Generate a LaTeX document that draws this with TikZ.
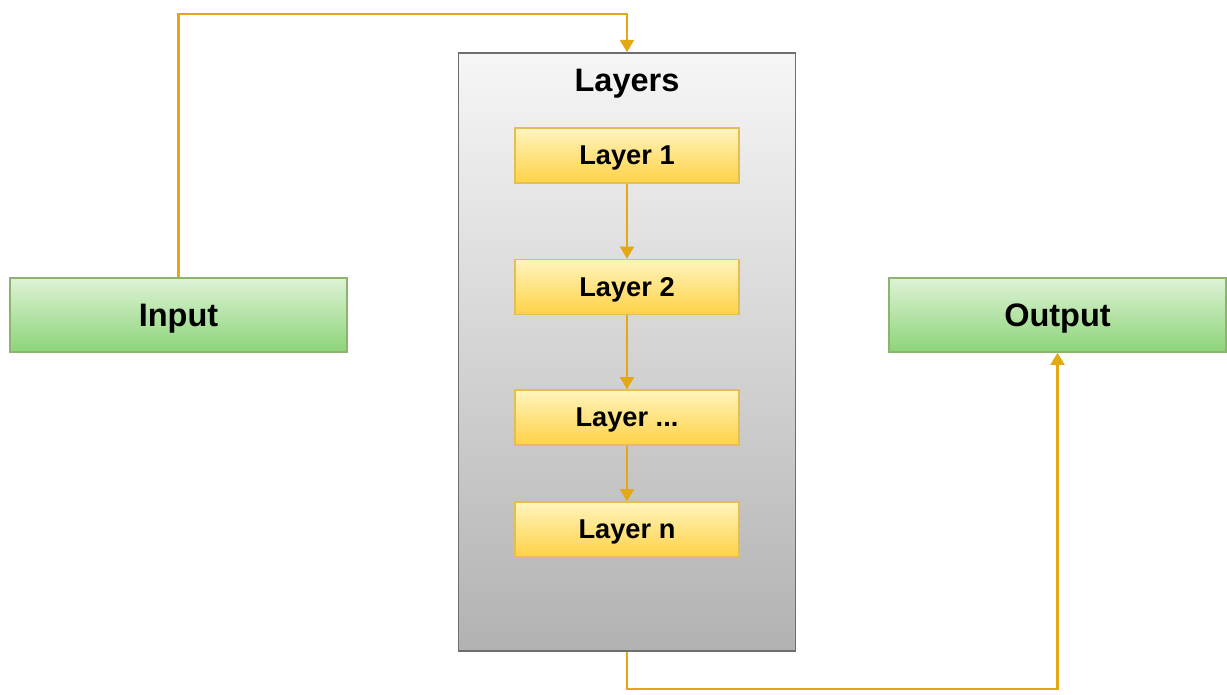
\documentclass[tikz,border=0pt]{standalone}
\usepackage{fontspec}
\setmainfont{Liberation Sans}
\usetikzlibrary{arrows.meta}

\definecolor{flowgold}{RGB}{228,168,20}
\definecolor{greenedge}{RGB}{140,180,110}
\definecolor{yellowedge}{RGB}{228,190,80}
\definecolor{stackedge}{RGB}{110,110,110}

\tikzset{
  flow/.style={draw=flowgold, line width=1.3pt,
    -{Triangle[width=8pt,length=7pt]}},
  iobox/.style={draw=greenedge, line width=0.8pt,
    top color={rgb,255:red,222;green,242;blue,214},
    bottom color={rgb,255:red,140;green,212;blue,120},
    minimum width=6.74cm, minimum height=1.48cm, text depth=0pt,
    font=\bfseries\fontsize{18.5}{20}\selectfont},
  layerbox/.style={draw=yellowedge, line width=0.8pt,
    top color={rgb,255:red,255;green,244;blue,190},
    bottom color={rgb,255:red,255;green,210;blue,70},
    minimum width=4.48cm, minimum height=1.1cm, text depth=0pt,
    font=\bfseries\fontsize{15.5}{17}\selectfont},
  stackbox/.style={draw=stackedge, line width=1pt,
    top color={rgb,255:red,246;green,246;blue,246},
    bottom color={rgb,255:red,178;green,178;blue,178},
    minimum width=6.74cm, minimum height=11.96cm}
}

\begin{document}
\begin{tikzpicture}[x=0.02cm, y=-0.02cm]

\useasboundingbox (0,0) rectangle (1227,695);

% input / output
\node[iobox] (in) at (178.5, 315) {Input};
\node[iobox] (out) at (1057.5, 315) {Output};

% the stack of layers
\node[stackbox] (stack) at (627, 352) {};
\node[font=\bfseries\fontsize{18.5}{20}\selectfont, text depth=0pt] (title) at (627, 80) {Layers};

\node[layerbox] (l1) at (627, 155.5) {Layer 1};
\node[layerbox] (l2) at (627, 287) {Layer 2};
\node[layerbox] (l3) at (627, 417.5) {Layer ...};
\node[layerbox] (ln) at (627, 529.5) {Layer n};

% connections
\draw[flow] (in.north) -- ++(0,-263) -| (stack.north);
\draw[flow] (l1) -- (l2);
\draw[flow] (l2) -- (l3);
\draw[flow] (l3) -- (ln);
\draw[flow] (stack.south) -- ++(0,37) -| (out.south);

\end{tikzpicture}
\end{document}
